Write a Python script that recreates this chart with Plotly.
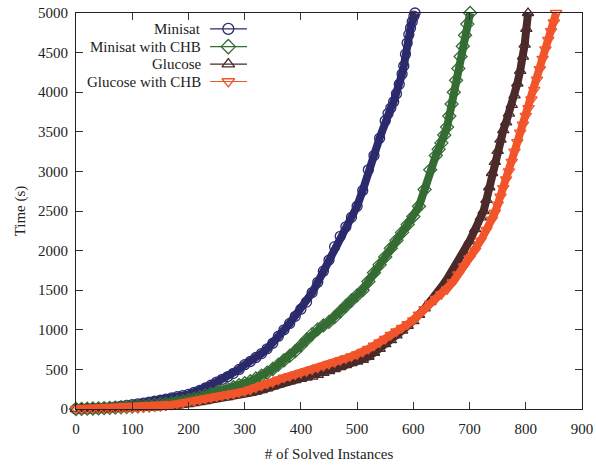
import plotly.graph_objects as go

# ---------------- data ----------------
series_names = ["Minisat", "Minisat with CHB", "Glucose", "Glucose with CHB"]

minisat_x = [0, 10, 20, 30, 40, 50, 60, 70, 80, 90, 100, 110, 120, 130, 140, 150, 160, 170, 180, 190,
             200, 210, 220, 230, 240, 250, 260, 270, 280, 290, 300, 310, 320, 330, 340, 350, 360, 370,
             380, 390, 400, 410, 420, 430, 440, 450, 460, 470, 480, 490, 500, 510, 520, 530, 540, 550,
             555, 560, 565, 570, 575, 580, 583, 586, 589, 592, 595, 598, 601, 603]
minisat_y = [0, 2, 4, 6, 9, 13, 18, 25, 35, 45, 55, 65, 75, 88, 100, 112, 125, 140, 155, 170,
             185, 210, 235, 265, 300, 340, 375, 410, 450, 500, 560, 600, 650, 700, 760, 830, 920, 1000,
             1080, 1170, 1260, 1350, 1470, 1600, 1740, 1880, 2050, 2180, 2300, 2420, 2560, 2760, 3020,
             3200, 3420, 3640, 3730, 3800, 3880, 3980, 4100, 4230, 4330, 4480, 4620, 4730, 4810, 4890,
             4960, 5000]

minisat_chb_x = [0, 10, 20, 30, 40, 50, 60, 70, 80, 90, 100, 110, 120, 130, 140, 150, 160, 170, 180,
                 190, 200, 210, 220, 230, 240, 250, 260, 270, 280, 290, 300, 310, 320, 330, 340, 350,
                 360, 370, 380, 390, 400, 410, 420, 430, 440, 450, 460, 470, 480, 490, 500, 510, 520,
                 530, 540, 550, 560, 570, 580, 590, 600, 610, 620, 630, 640, 645, 650, 655, 660, 664,
                 668, 672, 676, 680, 684, 688, 692, 696, 701]
minisat_chb_y = [0, 2, 4, 6, 8, 11, 14, 17, 21, 25, 30, 35, 40, 46, 52, 60, 68, 78, 88, 100, 115,
                 130, 150, 170, 190, 210, 230, 255, 275, 300, 325, 350, 385, 420, 460, 505, 560, 615,
                 670, 730, 800, 875, 945, 1005, 1055, 1100, 1160, 1230, 1300, 1370, 1435, 1500, 1610,
                 1720, 1820, 1920, 2030, 2130, 2230, 2330, 2430, 2560, 2770, 3020, 3200, 3280, 3360,
                 3460, 3560, 3700, 3850, 4000, 4150, 4300, 4450, 4580, 4720, 4860, 5000]

glucose_x = [0, 10, 20, 30, 40, 50, 60, 70, 80, 90, 100, 110, 120, 130, 140, 150, 160, 170, 180, 190,
             200, 210, 220, 230, 240, 250, 260, 270, 280, 290, 300, 310, 320, 330, 340, 350, 360, 370,
             380, 390, 400, 410, 420, 430, 440, 450, 460, 470, 480, 490, 500, 510, 520, 530, 540, 550,
             560, 570, 580, 590, 600, 610, 620, 630, 640, 650, 660, 670, 680, 690, 700, 710, 720, 725,
             730, 735, 740, 745, 750, 755, 760, 765, 770, 775, 780, 785, 790, 795, 798, 801, 804]
glucose_y = [0, 1, 2, 3, 4, 5, 6, 7, 8, 10, 12, 14, 16, 18, 20, 25, 32, 40, 48, 55, 62, 75, 88, 100,
             115, 130, 140, 150, 165, 178, 190, 205, 220, 240, 260, 285, 310, 330, 350, 365, 380, 395,
             410, 430, 455, 480, 505, 530, 555, 580, 600, 620, 660, 710, 760, 820, 870, 930, 990, 1050,
             1110, 1190, 1270, 1350, 1440, 1540, 1640, 1750, 1860, 1970, 2120, 2270, 2420, 2500, 2640,
             2800, 2980, 3120, 3260, 3400, 3520, 3620, 3730, 3840, 3960, 4110, 4270, 4450, 4600, 4800,
             5000]

glucose_chb_x = [0, 10, 20, 30, 40, 50, 60, 70, 80, 90, 100, 110, 120, 130, 140, 150, 160, 170, 180,
                 190, 200, 210, 220, 230, 240, 250, 260, 270, 280, 290, 300, 310, 320, 330, 340, 350,
                 360, 370, 380, 390, 400, 410, 420, 430, 440, 450, 460, 470, 480, 490, 500, 510, 520,
                 530, 540, 550, 560, 570, 580, 590, 600, 610, 620, 630, 640, 650, 660, 670, 680, 690,
                 700, 710, 720, 730, 740, 745, 750, 755, 760, 765, 770, 775, 780, 785, 790, 795, 800,
                 805, 810, 815, 820, 825, 830, 835, 840, 845, 850, 854]
glucose_chb_y = [0, 3, 5, 7, 9, 10, 11, 12, 13, 14, 15, 18, 22, 27, 32, 38, 46, 55, 65, 76, 88,
                 100, 115, 130, 145, 158, 170, 182, 195, 208, 225, 245, 270, 295, 320, 340, 370, 395,
                 415, 435, 455, 478, 500, 522, 545, 568, 590, 615, 640, 665, 690, 720, 760, 800, 840,
                 885, 935, 980, 1025, 1070, 1120, 1190, 1260, 1330, 1390, 1450, 1510, 1600, 1700, 1800,
                 1900, 2000, 2130, 2260, 2390, 2480, 2580, 2680, 2790, 2900, 3000, 3120, 3250, 3370,
                 3490, 3590, 3700, 3800, 3910, 4030, 4160, 4290, 4420, 4540, 4660, 4770, 4880, 5000]

x_ticks = [0, 100, 200, 300, 400, 500, 600, 700, 800, 900]
y_ticks = [0, 500, 1000, 1500, 2000, 2500, 3000, 3500, 4000, 4500, 5000]

# ---------------- styling ----------------
colors = ["#2b2a6c", "#356c33", "#4b2a2a", "#f2552b"]
symbols = ["circle-open", "diamond-open", "triangle-up-open", "triangle-down-open"]
FONT = "Liberation Serif"

xs = [minisat_x, minisat_chb_x, glucose_x, glucose_chb_x]
ys = [minisat_y, minisat_chb_y, glucose_y, glucose_chb_y]

fig = go.Figure()
for name, x, y, c, s in zip(series_names, xs, ys, colors, symbols):
    fig.add_trace(go.Scatter(
        x=x, y=y, name=name, mode="lines+markers",
        line=dict(color=c, width=8),
        marker=dict(symbol=s, size=10, color=c, line=dict(color=c, width=1.3)),
        cliponaxis=False, showlegend=False,
    ))

# legend drawn on a hidden overlay axis (text to the left, sample to the right)
leg_rows = [0.96, 0.915, 0.871, 0.827]
for name, c, s, ry in zip(series_names, colors, symbols, leg_rows):
    fig.add_trace(go.Scatter(
        x=[0.265, 0.338], y=[ry, ry], mode="lines", line=dict(color=c, width=1.2),
        xaxis="x2", yaxis="y2", showlegend=False, hoverinfo="skip"))
    fig.add_trace(go.Scatter(
        x=[0.301], y=[ry], mode="markers",
        marker=dict(symbol=s, size=11, color=c, line=dict(color=c, width=1.3)),
        xaxis="x2", yaxis="y2", showlegend=False, hoverinfo="skip"))
    fig.add_annotation(xref="paper", yref="paper", x=0.251, y=ry, text=name,
                       showarrow=False, xanchor="right", yanchor="middle",
                       font=dict(family=FONT, size=15, color="#222222"))

axis_common = dict(
    showline=True, linecolor="#222222", linewidth=1.2, mirror="allticks",
    ticks="inside", ticklen=7, tickwidth=1, tickcolor="#333333",
    showgrid=False, zeroline=False, automargin=False,
    tickfont=dict(family=FONT, size=15, color="#222222"),
)

fig.update_layout(
    width=596, height=466,
    margin=dict(l=76, r=14, t=13, b=57, autoexpand=False),
    paper_bgcolor="white", plot_bgcolor="white",
    showlegend=False,
    xaxis=dict(range=[0, 900], tickvals=x_ticks, ticklabelstandoff=6,
               title=dict(text="# of Solved Instances", standoff=12,
                          font=dict(family=FONT, size=15, color="#222222")),
               **axis_common),
    yaxis=dict(range=[0, 5000], tickvals=y_ticks, ticklabelstandoff=4,
               title=dict(text="Time (s)", standoff=8,
                          font=dict(family=FONT, size=15, color="#222222")),
               **axis_common),
    xaxis2=dict(overlaying="x", range=[0, 1], visible=False),
    yaxis2=dict(overlaying="y", range=[0, 1], visible=False),
)

fig.write_html("out.html", config={"displayModeBar": False},
               post_script="document.body.style.margin='0px';")
